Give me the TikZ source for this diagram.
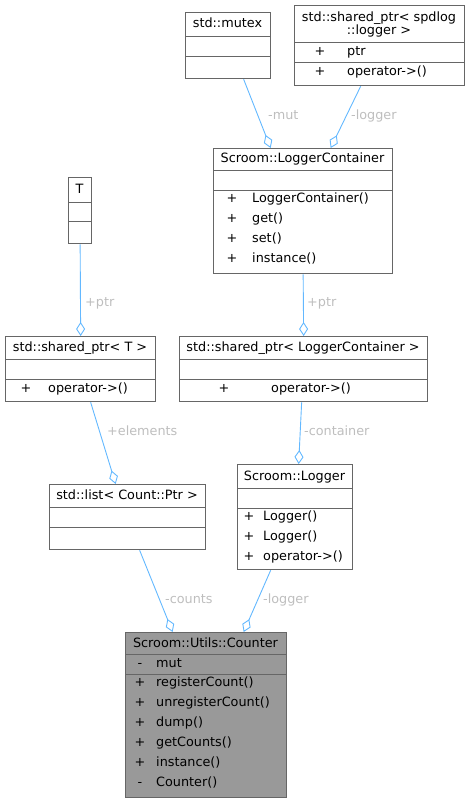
\documentclass[tikz,border=0pt]{standalone}
\usepackage{fontspec}
\setmainfont{DejaVu Sans}
\usetikzlibrary{arrows.meta,calc}
\definecolor{BoxGray}{HTML}{666666}
\definecolor{EdgeBlue}{HTML}{63B8FF}
\definecolor{LabelGray}{HTML}{BEBEBE}
\definecolor{FillGray}{HTML}{999999}

\begin{document}
\begin{tikzpicture}[x=1pt,y=-1pt,
  every node/.style={font=\fontsize{12.8}{15}\selectfont,text height=9.5pt,text depth=2.5pt},
  cls/.style={draw=BoxGray,line width=1.3pt,anchor=north west,inner sep=0pt,rectangle,text height=,text depth=},
  sep/.style={draw=BoxGray,line width=1pt},
  ttl/.style={inner sep=0pt},
  vis/.style={inner sep=0pt},
  mem/.style={anchor=west,inner sep=0pt},
  lbl/.style={anchor=west,inner sep=0pt,text=LabelGray},
  agg/.style={EdgeBlue,line width=0.9pt,-{Diamond[open,length=14pt,width=9pt]}}]
\useasboundingbox (0,0) rectangle (469,803);
% std::mutex
\node[cls,minimum width=85pt,minimum height=66pt] (mutex) at (185,12) {};
\node[ttl] (mutexT) at (227.5,24) {std::mutex};
\draw[sep] (185,36) -- (270,36) (185,56) -- (270,56);
% std::shared_ptr< spdlog::logger >
\node[cls,minimum width=170pt,minimum height=80pt] (spdlogptr) at (294,5) {};
\node[ttl] (spdlogT1) at (379,18) {std::shared\_ptr< spdlog};
\node[ttl] (spdlogT2) at (379,31) {::logger >};
\draw[sep] (294,42) -- (464,42) (294,62) -- (464,62);
\node[vis] at (320,52) {+}; \node[mem] at (347,52) {ptr};
\node[vis] at (320,72) {+}; \node[mem] at (347,72) {operator->()};
% Scroom::LoggerContainer
\node[cls,minimum width=179pt,minimum height=125pt] (loggercontainer) at (213,148) {};
\node[ttl] (loggercontainerT) at (302.5,159) {Scroom::LoggerContainer};
\draw[sep] (213,170) -- (392,170) (213,190) -- (392,190);
\foreach \y/\m in {199/LoggerContainer(),219/get(),239/set(),259/instance()} {\node[vis] at (232,\y) {+}; \node[mem] at (252,\y) {\m};}
% T
\node[cls,minimum width=23pt,minimum height=66pt] (tparam) at (68,177) {};
\node[ttl] (tparamT) at (79.5,189.5) {T};
\draw[sep] (68,202) -- (91,202) (68,221) -- (91,221);
% std::shared_ptr< T >
\node[cls,minimum width=150pt,minimum height=65pt] (sharedptrT) at (5,336) {};
\node[ttl] (sharedptrTT) at (80,347.5) {std::shared\_ptr< T >};
\draw[sep] (5,359) -- (155,359) (5,379) -- (155,379);
\node[vis] at (26,389) {+}; \node[mem] at (48,389) {operator->()};
% std::shared_ptr< LoggerContainer >
\node[cls,minimum width=248pt,minimum height=65pt] (sharedptrLC) at (179,336) {};
\node[ttl] (sharedptrLCT) at (303,347.5) {std::shared\_ptr< LoggerContainer >};
\draw[sep] (179,359) -- (427,359) (179,379) -- (427,379);
\node[vis] at (224,389) {+}; \node[mem] at (271,389) {operator->()};
% std::list< Count::Ptr >
\node[cls,minimum width=156pt,minimum height=65pt] (countlist) at (49,484) {};
\node[ttl] (countlistT) at (127,496) {std::list< Count::Ptr >};
\draw[sep] (49,507) -- (205,507) (49,527) -- (205,527);
% Scroom::Logger
\node[cls,minimum width=115pt,minimum height=105pt] (logger) at (237,464) {};
\node[ttl] (loggerT) at (294.5,476.5) {Scroom::Logger};
\draw[sep] (237,488) -- (352,488) (237,508) -- (352,508);
\foreach \y/\m in {517/Logger(),537/Logger(),557/operator->()} {\node[vis] at (249,\y) {+}; \node[mem] at (263,\y) {\m};}
% Scroom::Utils::Counter
\node[cls,fill=FillGray,minimum width=161pt,minimum height=165pt] (counter) at (125,632) {};
\node[ttl] (counterT) at (205.5,643.5) {Scroom::Utils::Counter};
\draw[sep] (125,654) -- (286,654) (125,674) -- (286,674);
\node[vis] at (140,664) {-}; \node[mem] at (156,664) {mut};
\foreach \y/\s/\m in {683/+/registerCount(),703/+/unregisterCount(),723/+/dump(),743/+/getCounts(),763/+/instance(),783/-/Counter()} {\node[vis] at (140,\y) {\s}; \node[mem] at (156,\y) {\m};}
% aggregations
\draw[agg] ($(mutex.south)+(15.5,0)$) -- ($(loggercontainer.north)+(-32.5,0)$);
\draw[agg] ($(spdlogptr.south)+(-19,0)$) -- ($(loggercontainer.north)+(27.5,0)$);
\draw[agg] (tparam.south) -- (sharedptrT.north);
\draw[agg] (loggercontainer.south) -- (sharedptrLC.north);
\draw[agg] ($(sharedptrT.south)+(10,0)$) -- ($(countlist.north)+(-12,0)$);
\draw[agg] ($(sharedptrLC.south)+(-2,0)$) -- ($(logger.north)+(3.5,0)$);
\draw[agg] ($(countlist.south)+(12,0)$) -- ($(counter.north)+(-33.5,0)$);
\draw[agg] ($(logger.south)+(-24.5,0)$) -- ($(counter.north)+(37.5,0)$);
\node[lbl] at (268,116) {-mut};
\node[lbl] at (351,116) {-logger};
\node[lbl] at (85,303) {+ptr};
\node[lbl] at (307,303) {+ptr};
\node[lbl] at (107,432) {+elements};
\node[lbl] at (304,432) {-container};
\node[lbl] at (165,600) {-counts};
\node[lbl] at (263,600) {-logger};
\end{tikzpicture}
\end{document}
